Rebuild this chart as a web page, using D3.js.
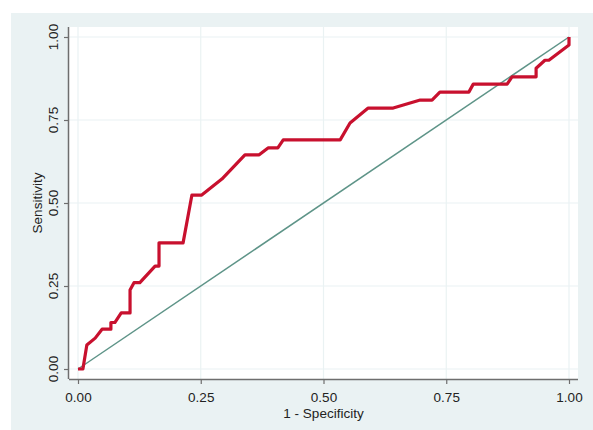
<!DOCTYPE html>
<html><head><meta charset="utf-8">
<script src="https://cdn.jsdelivr.net/npm/d3@7"></script>
<style>body{margin:0;background:#fff}svg{display:block}text{font-family:"Liberation Sans",Arial,sans-serif;fill:#222}</style>
</head><body>
<script>
const fpr = [0,0.010,0.018,0.035,0.049,0.067,0.067,0.075,0.088,0.106,0.106,0.114,0.126,0.157,0.165,0.165,0.214,0.232,0.252,0.293,0.340,0.369,0.387,0.407,0.418,0.534,0.554,0.591,0.642,0.697,0.721,0.737,0.796,0.805,0.874,0.884,0.933,0.933,0.951,0.959,1.0,1.0];
const tpr = [0,0,0.072,0.093,0.120,0.120,0.140,0.140,0.169,0.169,0.238,0.260,0.260,0.310,0.310,0.380,0.380,0.524,0.524,0.572,0.645,0.645,0.666,0.666,0.690,0.690,0.741,0.786,0.786,0.810,0.810,0.834,0.834,0.858,0.858,0.880,0.880,0.906,0.930,0.930,0.976,1.0];
const refLine = [[0,0],[1,1]];
const ticks = [0,0.25,0.5,0.75,1];
const tickLabels = ["0.00","0.25","0.50","0.75","1.00"];
const xTitle = "1 - Specificity", yTitle = "Sensitivity";

const W=593,H=430;
const svg=d3.select("body").append("svg").attr("width",W).attr("height",H);
svg.append("rect").attr("x",11).attr("y",13).attr("width",W-11).attr("height",H-13).attr("fill","#eaf2f3");
const L=69,R=578,T=27,B=379;
svg.append("rect").attr("x",L).attr("y",T).attr("width",R-L).attr("height",B-T).attr("fill","#fff");
const x=d3.scaleLinear().domain([0,1]).range([78,569]);
const y=d3.scaleLinear().domain([0,1]).range([369,37]);
// grid
svg.append("g").selectAll("line").data(ticks).join("line")
 .attr("x1",d=>x(d)).attr("x2",d=>x(d)).attr("y1",T).attr("y2",B).attr("stroke","#eaf2f3").attr("stroke-width",1.2);
svg.append("g").selectAll("line").data(ticks).join("line")
 .attr("y1",d=>y(d)).attr("y2",d=>y(d)).attr("x1",L).attr("x2",R).attr("stroke","#eaf2f3").attr("stroke-width",1.2);
// axes
const xa=svg.append("g").attr("transform",`translate(0,${B})`)
 .call(d3.axisBottom(x).tickValues(ticks).tickFormat((d,i)=>tickLabels[i]).tickSize(5).tickSizeOuter(0));
xa.select(".domain").attr("d",`M${L},0.5H${R}`);
xa.selectAll(".tick text").attr("dy",null).attr("y",23);
const ya=svg.append("g").attr("transform",`translate(${L},0)`)
 .call(d3.axisLeft(y).tickValues(ticks).tickFormat((d,i)=>tickLabels[i]).tickSize(5).tickSizeOuter(0));
ya.select(".domain").attr("d",`M-0.5,${T}V${B}`);
svg.selectAll(".domain").attr("stroke","#6e6e6e").attr("stroke-width",1.5);
svg.selectAll(".tick line").attr("stroke","#6e6e6e").attr("stroke-width",1.2);
svg.selectAll(".tick text").attr("font-size",13.5).attr("fill","#222").attr("font-family","Liberation Sans, Arial, sans-serif");
ya.selectAll(".tick text").attr("transform",null).attr("x",null).attr("dy",null)
 .attr("text-anchor","middle").attr("transform",d=>`translate(-11,${y(d)}) rotate(-90)`).attr("y",0);
ya.selectAll(".tick").attr("transform",null);
ya.selectAll(".tick line").attr("y1",d=>y(d)+0.5).attr("y2",d=>y(d)+0.5);
// titles
svg.append("text").attr("x",(L+R)/2).attr("y",418).attr("text-anchor","middle").attr("font-size",13.5).text(xTitle);
svg.append("text").attr("transform",`translate(42,${(T+B)/2}) rotate(-90)`).attr("text-anchor","middle").attr("font-size",13.5).text(yTitle);
// reference
svg.append("path").datum(refLine).attr("d",d3.line().x(d=>x(d[0])).y(d=>y(d[1])))
 .attr("stroke","#5e9488").attr("stroke-width",1.5).attr("fill","none");
// roc
const pts=fpr.map((v,i)=>[v,tpr[i]]);
svg.append("path").datum(pts).attr("d",d3.line().x(d=>x(d[0])).y(d=>y(d[1])))
 .attr("stroke","#c8102e").attr("stroke-width",3.2).attr("fill","none").attr("stroke-linejoin","round");
</script>
</body></html>
